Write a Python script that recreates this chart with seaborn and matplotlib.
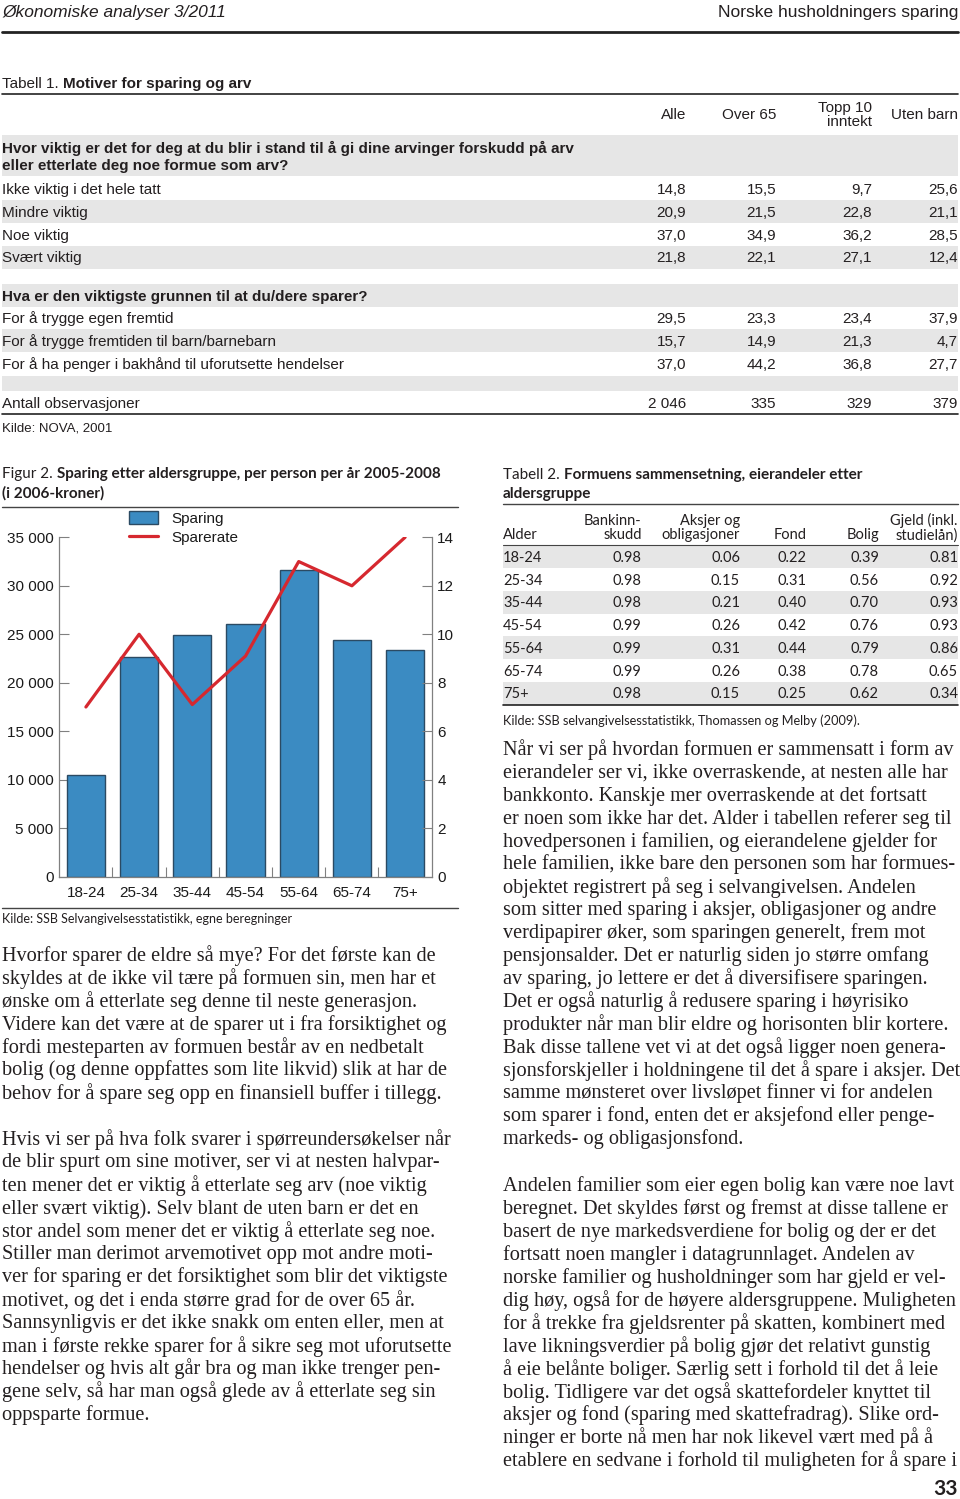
import matplotlib
matplotlib.use('Agg')
import matplotlib.pyplot as plt
import seaborn as sns
import numpy as np
import pandas as pd
from matplotlib.patches import Rectangle, Patch
from matplotlib.lines import Line2D

# ---- data ----
ages = ['18-24', '25-34', '35-44', '45-54', '55-64', '65-74', '75+']
sparing = [10500, 22700, 24900, 26100, 31600, 24400, 23400]
sparerate = [7.0, 10.0, 7.1, 9.1, 13.0, 12.0, 14.0]

t1_cols = ['Alle', 'Over 65', 'Topp 10\ninntekt', 'Uten barn']
q1 = 'Hvor viktig er det for deg at du blir i stand til å gi dine arvinger forskudd på arv\neller etterlate deg noe formue som arv?'
q1_rows = ['Ikke viktig i det hele tatt', 'Mindre viktig', 'Noe viktig', 'Svært viktig']
q1_vals = [[14.8, 15.5, 9.7, 25.6],
           [20.9, 21.5, 22.8, 21.1],
           [37.0, 34.9, 36.2, 28.5],
           [21.8, 22.1, 27.1, 12.4]]
q2 = 'Hva er den viktigste grunnen til at du/dere sparer?'
q2_rows = ['For å trygge egen fremtid',
           'For å trygge fremtiden til barn/barnebarn',
           'For å ha penger i bakhånd til uforutsette hendelser']
q2_vals = [[29.5, 23.3, 23.4, 37.9],
           [15.7, 14.9, 21.3, 4.7],
           [37.0, 44.2, 36.8, 27.7]]
n_obs = [2046, 335, 329, 379]

t2_cols = ['Bankinn-\nskudd', 'Aksjer og\nobligasjoner', 'Fond', 'Bolig', 'Gjeld (inkl.\nstudielån)']
bank = [0.98, 0.98, 0.98, 0.99, 0.99, 0.99, 0.98]
aksjer = [0.06, 0.15, 0.21, 0.26, 0.31, 0.26, 0.15]
fond = [0.22, 0.31, 0.40, 0.42, 0.44, 0.38, 0.25]
bolig = [0.39, 0.56, 0.70, 0.76, 0.79, 0.78, 0.62]
gjeld = [0.81, 0.92, 0.93, 0.93, 0.86, 0.65, 0.34]

left_p1 = [
    'Hvorfor sparer de eldre så mye? For det første kan de',
    'skyldes at de ikke vil tære på formuen sin, men har et',
    'ønske om å etterlate seg denne til neste generasjon.',
    'Videre kan det være at de sparer ut i fra forsiktighet og',
    'fordi mesteparten av formuen består av en nedbetalt',
    'bolig (og denne oppfattes som lite likvid) slik at har de',
    'behov for å spare seg opp en finansiell buffer i tillegg.',
]
left_p2 = [
    'Hvis vi ser på hva folk svarer i spørreundersøkelser når',
    'de blir spurt om sine motiver, ser vi at nesten halvpar-',
    'ten mener det er viktig å etterlate seg arv (noe viktig',
    'eller svært viktig). Selv blant de uten barn er det en',
    'stor andel som mener det er viktig å etterlate seg noe.',
    'Stiller man derimot arvemotivet opp mot andre moti-',
    'ver for sparing er det forsiktighet som blir det viktigste',
    'motivet, og det i enda større grad for de over 65 år.',
    'Sannsynligvis er det ikke snakk om enten eller, men at',
    'man i første rekke sparer for å sikre seg mot uforutsette',
    'hendelser og hvis alt går bra og man ikke trenger pen-',
    'gene selv, så har man også glede av å etterlate seg sin',
    'oppsparte formue.',
]
right_p1 = [
    'Når vi ser på hvordan formuen er sammensatt i form av',
    'eierandeler ser vi, ikke overraskende, at nesten alle har',
    'bankkonto. Kanskje mer overraskende at det fortsatt',
    'er noen som ikke har det. Alder i tabellen referer seg til',
    'hovedpersonen i familien, og eierandelene gjelder for',
    'hele familien, ikke bare den personen som har formues-',
    'objektet registrert på seg i selvangivelsen. Andelen',
    'som sitter med sparing i aksjer, obligasjoner og andre',
    'verdipapirer øker, som sparingen generelt, frem mot',
    'pensjonsalder. Det er naturlig siden jo større omfang',
    'av sparing, jo lettere er det å diversifisere sparingen.',
    'Det er også naturlig å redusere sparing i høyrisiko',
    'produkter når man blir eldre og horisonten blir kortere.',
    'Bak disse tallene vet vi at det også ligger noen genera-',
    'sjonsforskjeller i holdningene til det å spare i aksjer. Det',
    'samme mønsteret over livsløpet finner vi for andelen',
    'som sparer i fond, enten det er aksjefond eller penge-',
    'markeds- og obligasjonsfond.',
]
right_p2 = [
    'Andelen familier som eier egen bolig kan være noe lavt',
    'beregnet. Det skyldes først og fremst at disse tallene er',
    'basert de nye markedsverdiene for bolig og der er det',
    'fortsatt noen mangler i datagrunnlaget. Andelen av',
    'norske familier og husholdninger som har gjeld er vel-',
    'dig høy, også for de høyere aldersgruppene. Muligheten',
    'for å trekke fra gjeldsrenter på skatten, kombinert med',
    'lave likningsverdier på bolig gjør det relativt gunstig',
    'å eie belånte boliger. Særlig sett i forhold til det å leie',
    'bolig. Tidligere var det også skattefordeler knyttet til',
    'aksjer og fond (sparing med skattefradrag). Slike ord-',
    'ninger er borte nå men har nok likevel vært med på å',
    'etablere en sedvane i forhold til muligheten for å spare i',
]

# ---- style ----
sns.set_theme(style='white')
plt.rcParams['font.family'] = ['Liberation Sans', 'DejaVu Sans']

W, H = 960, 1499
fig = plt.figure(figsize=(W / 100, H / 100), dpi=100)
renderer = fig.canvas.get_renderer()

NARROW = ['Liberation Sans Narrow', 'Liberation Sans']
SANS = ['Lato', 'DejaVu Sans']
SERIF = ['Liberation Serif', 'DejaVu Serif']
INK = '#231f20'
GRAY_BAND = '#e6e6e6'


def fx(x):
    return x / W


def fy(y):
    return 1 - y / H


def txt(x, y, s, **kw):
    kw.setdefault('va', 'center')
    kw.setdefault('color', INK)
    return fig.text(fx(x), fy(y), s, **kw)


def hline(y, x0, x1, lw=1.0, color='#333333'):
    fig.add_artist(Line2D([fx(x0), fx(x1)], [fy(y), fy(y)],
                          transform=fig.transFigure, lw=lw, color=color))


def band(y0, y1, x0=2, x1=958, color=GRAY_BAND):
    fig.add_artist(Rectangle((fx(x0), fy(y1)), (x1 - x0) / W, (y1 - y0) / H,
                             transform=fig.transFigure, color=color, lw=0, zorder=0))


def two_part(x, y, a, b, size, family, gap=4):
    t = txt(x, y, a, fontsize=size, family=family)
    w = t.get_window_extent(renderer).width
    txt(x + w + gap, y, b, fontsize=size, family=family, weight='bold')


def fmt_comma(v):
    return f'{v:.1f}'.replace('.', ',')


# ---- page header ----
txt(2, 12, 'Økonomiske analyser 3/2011', fontsize=12.5, family=NARROW, style='italic')
txt(958, 12, 'Norske husholdningers sparing', fontsize=12.5, family=NARROW, ha='right')
hline(32, 2, 958, lw=2.0, color='#222222')

# ---- Tabell 1 ----
two_part(2, 84, 'Tabell 1.', 'Motiver for sparing og arv', 11, NARROW)
hline(94, 2, 958, lw=1.2, color='#222222')
t1_x = [686, 776, 872, 958]
for cx, c in zip(t1_x, t1_cols):
    txt(cx, 115, c, fontsize=11, family=NARROW, ha='right', linespacing=1.05)

band(135, 176)
txt(2, 157, q1, fontsize=11, family=NARROW, weight='bold', linespacing=1.25)
row_y = 189
for i, (lab, vals) in enumerate(zip(q1_rows, q1_vals)):
    y = row_y + i * 22.8
    if i % 2 == 1:
        band(y - 11.4, y + 11.4)
    txt(2, y + 1, lab, fontsize=11, family=NARROW)
    for cx, v in zip(t1_x, vals):
        txt(cx, y + 1, fmt_comma(v), fontsize=11, family=NARROW, ha='right')

band(284, 307)
txt(2, 297, q2, fontsize=11, family=NARROW, weight='bold')
row_y = 318
for i, (lab, vals) in enumerate(zip(q2_rows, q2_vals)):
    y = row_y + i * 22.8
    if i % 2 == 1:
        band(y - 11.4, y + 11.4)
    txt(2, y + 1, lab, fontsize=11, family=NARROW)
    for cx, v in zip(t1_x, vals):
        txt(cx, y + 1, fmt_comma(v), fontsize=11, family=NARROW, ha='right')
band(376, 391)
txt(2, 404, 'Antall observasjoner', fontsize=11, family=NARROW)
for cx, v in zip(t1_x, n_obs):
    txt(cx, 404, f'{v:,}'.replace(',', ' '), fontsize=11, family=NARROW, ha='right')
hline(414, 2, 958, lw=1.2, color='#222222')
txt(2, 428, 'Kilde: NOVA, 2001', fontsize=9.5, family=NARROW)

# ---- Figur 2 ----
two_part(2, 474, 'Figur 2.', 'Sparing etter aldersgruppe, per person per år 2005-2008', 11, SANS)
txt(2, 493, '(i 2006-kroner)', fontsize=11, family=SANS, weight='bold')
hline(507, 2, 458, lw=1.0, color='#444444')

bar_color = '#3b8bc2'
bar_edge = '#2b4a63'
red = '#d6282f'
spine_c = '#808080'

df = pd.DataFrame({'alder': ages, 'sparing': sparing, 'sparerate': sparerate})
pos = np.arange(len(ages))

ax = fig.add_axes([fx(59.3), fy(876.7), (431.7 - 59.3) / W, (876.7 - 537.3) / H])
sns.barplot(data=df, x='alder', y='sparing', ax=ax, color=bar_color, saturation=1,
            edgecolor=bar_edge, linewidth=1.0, width=0.72)
ax.set_xlim(-0.5, len(ages) - 0.5)
ax.set_ylim(0, 35000)
ax.set_xlabel('')
ax.set_ylabel('')
yt = np.arange(0, 35001, 5000)
ax.set_yticks(yt)
ax.set_yticklabels([f'{v:,}'.replace(',', ' ') for v in yt])
ax.set_xticks(pos)
ax.set_xticklabels(ages)
ax.set_xticks(pos[:-1] + 0.5, minor=True)
ax.tick_params(axis='y', left=True, direction='in', length=7, width=0.8, color=spine_c,
               labelsize=11, pad=4, labelcolor='#1a1a1a')
ax.tick_params(axis='x', which='major', bottom=True, length=0, labelsize=11, pad=6.5,
               labelcolor='#1a1a1a')
ax.tick_params(axis='x', which='minor', bottom=True, direction='in', length=7, width=0.8,
               color=spine_c)
for s in ['top', 'right']:
    ax.spines[s].set_visible(False)
for s in ['left', 'bottom']:
    ax.spines[s].set_color(spine_c)
    ax.spines[s].set_linewidth(0.9)

ax2 = ax.twinx()
sns.lineplot(x=pos, y=df['sparerate'], ax=ax2, color=red, linewidth=2.3)
ax2.set_ylim(0, 14)
ax2.set_xlim(-0.5, len(ages) - 0.5)
ax2.set_ylabel('')
ax2.set_yticks(np.arange(0, 15, 2))
ax2.tick_params(axis='y', right=True, direction='in', length=7, width=0.8, color=spine_c,
                labelsize=11, pad=4, labelcolor='#1a1a1a')
for s in ['top', 'left', 'bottom']:
    ax2.spines[s].set_visible(False)
ax2.spines['right'].set_color(spine_c)
ax2.spines['right'].set_linewidth(0.9)

handles = [Patch(facecolor=bar_color, edgecolor=bar_edge, lw=1.0, label='Sparing'),
           Line2D([], [], color=red, lw=2.3, label='Sparerate')]
leg = fig.legend(handles=handles, loc='upper left', bbox_to_anchor=(fx(129), fy(511)),
                 frameon=False, fontsize=11, handlelength=1.9, handleheight=0.9,
                 handletextpad=0.9, labelspacing=0.3, borderaxespad=0, borderpad=0)
for t in leg.get_texts():
    t.set_color('#1a1a1a')

hline(908, 2, 458, lw=1.0, color='#444444')
txt(2, 919, 'Kilde: SSB Selvangivelsesstatistikk, egne beregninger', fontsize=9, family=SANS)

# ---- Tabell 2 ----
two_part(503, 475, 'Tabell 2.', 'Formuens sammensetning, eierandeler etter', 11, SANS)
txt(503, 494, 'aldersgruppe', fontsize=11, family=SANS, weight='bold')
hline(504, 503, 958, lw=1.0, color='#444444')
t2_x = [641.7, 740, 806.7, 879, 958]
txt(503, 535, 'Alder', fontsize=10.5, family=SANS)
for cx, c in zip(t2_x, t2_cols):
    lab = c if '\n' in c else '\n' + c
    txt(cx, 528, lab, fontsize=10.5, family=SANS, ha='right', linespacing=1.0)
hline(545, 503, 958, lw=0.8, color='#444444')
cols2 = [bank, aksjer, fond, bolig, gjeld]
for i, a in enumerate(ages):
    y = 556.7 + i * 22.8
    if i % 2 == 0:
        band(y - 11.4, y + 11.4, x0=503, x1=958)
    txt(503, y + 1, a, fontsize=10.5, family=SANS)
    for cx, col in zip(t2_x, cols2):
        txt(cx, y + 1, f'{col[i]:.2f}', fontsize=10.5, family=SANS, ha='right')
hline(705, 503, 958, lw=1.2, color='#222222')
txt(503, 721, 'Kilde: SSB selvangivelsesstatistikk, Thomassen og Melby (2009).', fontsize=9.2,
    family=SANS)

# ---- body text ----
LS = 22.9


def para(x, y0, lines):
    for i, ln in enumerate(lines):
        txt(x, y0 + 1 + i * LS, ln, fontsize=14.6, family=SERIF)


para(2, 955, left_p1)
para(2, 1139, left_p2)
para(503, 749, right_p1)
para(503, 1185, right_p2)

txt(958, 1489, '33', fontsize=15, family=SANS, weight='bold', ha='right')

fig.savefig('out.png', dpi=100)
